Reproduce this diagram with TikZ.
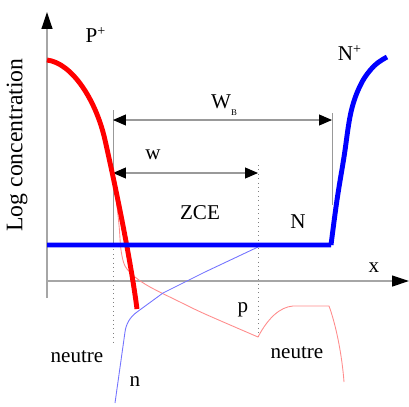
\documentclass[tikz,border=0pt]{standalone}
\usepackage{fontspec}
\setmainfont{Liberation Serif}
\usetikzlibrary{arrows.meta}

\begin{document}
\begin{tikzpicture}[x=0.02cm,y=-0.02cm,
  lbl/.style={font=\fontsize{12}{14}\selectfont, inner sep=1pt},
  axis/.style={gray!70, line width=0.7pt, -{Triangle[length=0.34cm,width=0.22cm,color=black]}},
  dimline/.style={gray!80, line width=0.6pt, {Triangle[length=0.26cm,width=0.22cm,color=black]}-{Triangle[length=0.26cm,width=0.22cm,color=black]}},
  guide/.style={gray!80, line width=0.5pt},
  dotguide/.style={gray, line width=0.5pt, dotted},
  major/.style={line width=2.8pt, line join=round},
  minor/.style={line width=0.5pt, line join=round}]
\useasboundingbox (0,0) rectangle (409,406);
% Axes
\coordinate (ybot) at (47,298);
\coordinate (ytip) at (47,12);
\coordinate (xorg) at (47,281);
\coordinate (xtip) at (409,281);
\draw[axis] (ybot) -- (ytip);
\draw[axis] (xorg) -- (xtip);
% Guides for the widths
\coordinate (wl) at (113,173);
\coordinate (wr) at (258,173);
\coordinate (wbl) at (113,120);
\coordinate (wbr) at (332,120);
\draw[guide] (113,110) -- (113,245);
\draw[dotguide] (113,245) -- (113,343);
\draw[guide] (332,113) -- (332,205);
\draw[dotguide] (258,165) -- (258,340);
\draw[dimline] (wbl) -- (wbr);
\draw[dimline] (wl) -- (wr);
% Minority carriers
\draw[minor, red!45] plot[smooth, tension=0.5] coordinates {(110,160) (115,190) (119,225) (121,250) (125,266) (135,277) (150,287) (180,302) (205,314) (258,337)}
  .. controls (268,318) and (280,307) .. (293,306) -- (329,306)
  .. controls (336,325) and (342,355) .. (344,382);
\draw[minor, blue!55] (258,247) -- (205,272) -- (163,293) -- (137,312)
  .. controls (130,317) and (126,324) .. (125,332) -- (115,403);
% Majority carriers
\draw[major, red] (47,60) .. controls (72,63) and (96,100) .. (105,140)
  .. controls (114,180) and (130,255) .. (137,309);
\draw[major, blue] (47,245) -- (331,245)
  plot[smooth, tension=0.6] coordinates {(331,245) (337,200) (344,157) (351,112) (361,84) (374,66) (387,57)};
% Labels
\node[lbl, rotate=90, font=\fontsize{13.5}{16}\selectfont] (ylab) at (17,145) {Log concentration};
\node[lbl] (pplus) at (96,35) {P\textsuperscript{+}};
\node[lbl] (nplus) at (350,53) {N\textsuperscript{+}};
\node[lbl] (wb) at (224,105) {W\raisebox{-0.7ex}{\tiny B}};
\node[lbl] (w) at (153,155) {w};
\node[lbl] (zce) at (200,213) {ZCE};
\node[lbl] (nreg) at (298,222) {N};
\node[lbl] (xlab) at (374,268) {x};
\node[lbl] (plab) at (243,310) {p};
\node[lbl] (neutl) at (77,357) {neutre};
\node[lbl] (neutr) at (297,353) {neutre};
\node[lbl] (nlab) at (135,382) {n};
\end{tikzpicture}
\end{document}
